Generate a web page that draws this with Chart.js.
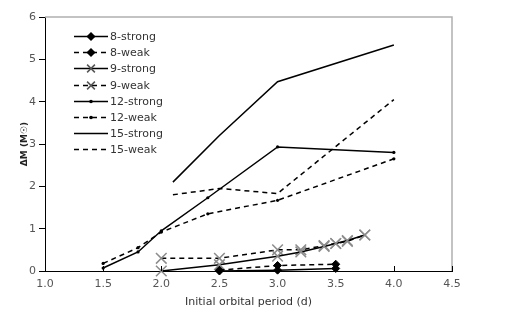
<!DOCTYPE html>
<html><head><meta charset="utf-8">
<script src="https://cdn.jsdelivr.net/npm/chart.js@4/dist/chart.umd.min.js"></script>
<style>html,body{margin:0;padding:0;background:#fff}#wrap{width:523px;height:321px}</style>
</head><body><div id="wrap"><canvas id="c" width="523" height="321"></canvas></div>
<script>
const seriesNames = ['8-strong','8-weak','9-strong','9-weak','12-strong','12-weak','15-strong','15-weak'];
const x8s = [2.5, 3.0, 3.5];            const y8s = [0.0, 0.02, 0.06];
const x8w = [2.5, 3.0, 3.5];            const y8w = [0.02, 0.13, 0.16];
const x9s = [2.0, 2.5, 3.0, 3.2, 3.4, 3.5, 3.6, 3.75]; const y9s = [0.0, 0.15, 0.35, 0.45, 0.58, 0.65, 0.72, 0.85];
const x9w = [2.0, 2.5, 3.0, 3.2, 3.4, 3.5, 3.6, 3.75]; const y9w = [0.3, 0.3, 0.5, 0.5, 0.6, 0.65, 0.7, 0.85];
const x12s = [1.5, 1.8, 2.0, 2.4, 3.0, 4.0]; const y12s = [0.07, 0.45, 0.95, 1.73, 2.93, 2.8];
const x12w = [1.5, 1.8, 2.0, 2.4, 3.0, 4.0]; const y12w = [0.18, 0.55, 0.92, 1.35, 1.67, 2.65];
const x15s = [2.1, 2.5, 3.0, 4.0];      const y15s = [2.1, 3.2, 4.47, 5.34];
const x15w = [2.1, 2.5, 3.0, 4.0];      const y15w = [1.8, 1.95, 1.83, 4.05];
const xTicks = [1.0, 1.5, 2.0, 2.5, 3.0, 3.5, 4.0, 4.5];
const yTicks = [0, 1, 2, 3, 4, 5, 6];

const pts = (xs, ys) => xs.map((x, i) => ({x, y: ys[i]}));
const DASH = [5, 4];
function ds(i, xs, ys, dashed, marker) {
  const d = {label: seriesNames[i], data: pts(xs, ys), showLine: true, borderColor: '#000',
    backgroundColor: '#000', borderWidth: 1.5, borderDash: dashed ? DASH : [], clip: false,
    pointRadius: 0, pointHoverRadius: 0};
  if (marker === 'diamond') { d.pointStyle = 'rectRot'; d.pointRadius = 4; d.pointBackgroundColor = '#000'; d.pointBorderColor = '#000'; d.pointBorderWidth = 1; }
  if (marker === 'x') { d.pointStyle = 'crossRot'; d.pointRadius = 7.5; d.pointBorderColor = '#8c8c8c'; d.pointBorderWidth = 1.5; }
  if (marker === 'dot') { d.pointStyle = 'circle'; d.pointRadius = 1.6; d.pointBackgroundColor = '#000'; d.pointBorderColor = '#000'; d.pointBorderWidth = 0; }
  return d;
}
const datasets = [
  ds(0, x8s, y8s, false, 'diamond'), ds(1, x8w, y8w, true, 'diamond'),
  ds(2, x9s, y9s, false, 'x'), ds(3, x9w, y9w, true, 'x'),
  ds(4, x12s, y12s, false, 'dot'), ds(5, x12w, y12w, true, 'dot'),
  ds(6, x15s, y15s, false, null), ds(7, x15w, y15w, true, null)
];

const FONT = 'DejaVu Sans';
const extras = {
  id: 'extras',
  afterDraw(chart) {
    const {ctx, chartArea: a, scales} = chart;
    ctx.save();
    ctx.strokeStyle = '#b0b0b0'; ctx.lineWidth = 1.5;
    ctx.beginPath(); ctx.moveTo(a.left, a.top); ctx.lineTo(a.right, a.top); ctx.lineTo(a.right, a.bottom); ctx.stroke();
    ctx.strokeStyle = '#000'; ctx.lineWidth = 1;
    xTicks.forEach(v => { const px = Math.round(scales.x.getPixelForValue(v)) + 0.5;
      ctx.beginPath(); ctx.moveTo(px, a.bottom); ctx.lineTo(px, a.bottom - 5); ctx.stroke(); });
    const x0 = 74, len = 34, tx = 110, y0 = 36, step = 16.2;
    ctx.font = '11px "' + FONT + '"'; ctx.textBaseline = 'middle'; ctx.textAlign = 'left';
    chart.data.datasets.forEach((d, i) => {
      const y = Math.round(y0 + i * step) + 0.5;
      ctx.strokeStyle = '#000'; ctx.lineWidth = 1.5; ctx.setLineDash(d.borderDash || []);
      ctx.beginPath(); ctx.moveTo(x0, y); ctx.lineTo(x0 + len, y); ctx.stroke(); ctx.setLineDash([]);
      if (d.pointRadius > 0) {
        ctx.fillStyle = '#000'; ctx.strokeStyle = d.pointStyle === 'crossRot' ? '#555' : '#000';
        Chart.helpers.drawPoint(ctx, {pointStyle: d.pointStyle,
          radius: d.pointStyle === 'crossRot' ? 5.5 : (d.pointStyle === 'rectRot' ? 3.5 : 1.8),
          borderWidth: d.pointStyle === 'crossRot' ? 1 : (d.pointStyle === 'rectRot' ? 1 : 0), rotation: 0},
          x0 + len / 2, y);
      }
      ctx.fillStyle = '#333'; ctx.fillText(d.label, tx, y + 1);
    });
    ctx.restore();
  }
};

new Chart(document.getElementById('c'), {
  type: 'scatter',
  data: {datasets},
  options: {
    responsive: false, animation: false, devicePixelRatio: 1,
    layout: {padding: {left: 0, top: 17, right: 71, bottom: 0}},
    plugins: {legend: {display: false}, tooltip: {enabled: false}},
    scales: {
      x: {type: 'linear', min: 1.0, max: 4.5,
        afterBuildTicks: s => { s.ticks = xTicks.map(v => ({value: v})); },
        afterFit: s => { s.height = 50; },
        grid: {display: true, drawOnChartArea: false, drawTicks: false},
        border: {color: '#000', width: 1},
        ticks: {padding: 7, color: '#555', font: {family: FONT, size: 11}, callback: v => Number(v).toFixed(1)},
        title: {display: true, text: 'Initial orbital period (d)', color: '#333', font: {family: FONT, size: 11}, padding: {top: 4, bottom: 12}}
      },
      y: {type: 'linear', min: 0, max: 6,
        afterBuildTicks: s => { s.ticks = yTicks.map(v => ({value: v})); },
        afterFit: s => { s.width = 45; },
        grid: {display: true, drawOnChartArea: false, drawTicks: true, tickLength: 6, color: '#000'},
        border: {color: '#000', width: 1},
        ticks: {padding: 3, color: '#555', font: {family: FONT, size: 11}},
        title: {display: true, text: 'ΔM (M☉)', color: '#222', font: {family: FONT, size: 9, weight: 'bold'}, padding: {top: 19, bottom: 0}}
      }
    }
  },
  plugins: [extras]
});
</script></body></html>
